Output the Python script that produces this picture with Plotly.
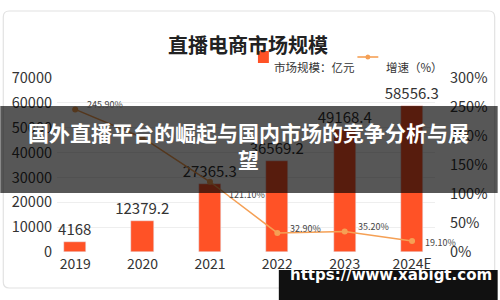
import plotly.graph_objects as go

years = ["2019", "2020", "2021", "2022", "2023", "2024E"]
market_size = [4168, 12379.2, 27365.3, 36569.2, 49168.4, 58556.3]
growth = [245.9, 197.0, 121.1, 32.9, 35.2, 19.1]
growth_labels = ["245.90%", "", "121.10%", "32.90%", "35.20%", "19.10%"]
left_ticks = [0, 10000, 20000, 30000, 40000, 50000, 60000, 70000]
right_ticks = [0, 50, 100, 150, 200, 250, 300]

title_text = "直播电商市场规模"
legend_bar = "市场规模：亿元"
legend_line = "增速（%）"
banner_text = "国外直播平台的崛起与国内市场的竞争分析与展<br>望"
watermark = "https://www.xabigt.com"

W, H = 500, 300
L, R, T, B = 57, 63, 78, 48
PW, PH = W - L - R, H - T - B

def px(x):
    return (x - L) / PW

def py(y):
    return (H - B - y) / PH

BAR = "#FF5226"
LINE = "#F5A055"
FONT = "Noto Sans CJK SC"

fig = go.Figure()
fig.add_trace(go.Bar(
    x=years, y=market_size, marker_color=BAR, width=0.33,
    text=[f"{v:g}" for v in market_size], textposition="outside",
    constraintext="none",
    textfont=dict(size=15, color="#333", family=FONT), cliponaxis=False,
    showlegend=False, yaxis="y"))
fig.add_trace(go.Scatter(
    x=years, y=growth, mode="lines+markers", yaxis="y2",
    line=dict(color=LINE, width=1.5), marker=dict(size=6, color=LINE),
    showlegend=False, cliponaxis=False))

# line data labels (x given as category index)
offsets = [(10, 5), (0, 0), (17, -13), (11, 4), (11, 5), (11, -2)]
for i, (g, lab, (dx, dy)) in enumerate(zip(growth, growth_labels, offsets)):
    if not lab:
        continue
    fig.add_annotation(x=i, y=g, xref="x", yref="y2", text=lab, showarrow=False,
                       xanchor="left", xshift=dx, yshift=dy,
                       font=dict(size=9, color="#444", family=FONT))

shapes = []
# card with rounded corners
x0, x1, y0, y1 = px(3), px(497), py(288), py(11)
rx, ry = 6 / PW, 6 / PH
path = (f"M {x0+rx},{y1} L {x1-rx},{y1} Q {x1},{y1} {x1},{y1-ry} "
        f"L {x1},{y0+ry} Q {x1},{y0} {x1-rx},{y0} L {x0+rx},{y0} "
        f"Q {x0},{y0} {x0},{y0+ry} L {x0},{y1-ry} Q {x0},{y1} {x0+rx},{y1} Z")
shapes.append(dict(type="path", xref="paper", yref="paper", path=path,
                   line=dict(color="#e2e2e2", width=1.2), fillcolor="white",
                   layer="below"))
# legend symbols
shapes.append(dict(type="rect", xref="paper", yref="paper",
                   x0=px(259), x1=px(270), y0=py(63), y1=py(51),
                   fillcolor=BAR, line=dict(width=0)))
shapes.append(dict(type="rect", xref="paper", yref="paper",
                   x0=px(359), x1=px(380), y0=py(57.8), y1=py(56.2),
                   fillcolor=LINE, line=dict(width=0)))
shapes.append(dict(type="circle", xref="paper", yref="paper",
                   x0=px(367), x1=px(372), y0=py(59.5), y1=py(54.5),
                   fillcolor=LINE, line=dict(width=0)))
# banner
shapes.append(dict(type="rect", xref="paper", yref="paper",
                   x0=px(0), x1=px(500), y0=py(193), y1=py(106),
                   fillcolor="rgba(0,0,0,0.66)", line=dict(width=0), layer="above"))
# watermark box
shapes.append(dict(type="rect", xref="paper", yref="paper",
                   x0=px(280), x1=px(500), y0=py(300), y1=py(270),
                   fillcolor="#111", line=dict(width=0), layer="above"))

annotations = [
    dict(x=px(249), y=py(28), xref="paper", yref="paper", text=f"<b>{title_text}</b>",
         showarrow=False, font=dict(size=20, color="#222", family=FONT)),
    dict(x=px(273), y=py(57), xref="paper", yref="paper", text=legend_bar,
         showarrow=False, xanchor="left", font=dict(size=11.5, color="#333", family=FONT)),
    dict(x=px(386), y=py(57), xref="paper", yref="paper", text=legend_line,
         showarrow=False, xanchor="left", font=dict(size=11.5, color="#333", family=FONT)),
    dict(x=px(250), y=py(145), xref="paper", yref="paper", text=f"<b>{banner_text}</b>",
         showarrow=False, font=dict(size=21, color="white", family=FONT)),
    dict(x=px(289), y=py(286), xref="paper", yref="paper", text=f"<b>{watermark}</b>",
         showarrow=False, xanchor="left", font=dict(size=15, color="white", family="DejaVu Sans")),
]
for a in annotations:
    fig.add_annotation(**a)

fig.update_layout(
    width=W, height=H, margin=dict(l=L, r=R, t=T, b=B),
    paper_bgcolor="white", plot_bgcolor="rgba(0,0,0,0)",
    shapes=shapes, bargap=0,
    xaxis=dict(type="category", range=[-0.27, 5.34], showgrid=False, zeroline=False,
               showline=False, ticks="", tickfont=dict(size=14, color="#333", family=FONT),
               ticklabelstandoff=2),
    yaxis=dict(range=[0, 70000], tickvals=left_ticks, ticktext=[str(v) for v in left_ticks],
               showgrid=True, gridcolor="#eeeeee", gridwidth=1, zeroline=False,
               tickfont=dict(size=14.5, color="#333", family=FONT), ticklabelstandoff=4),
    yaxis2=dict(range=[0, 300], tickvals=right_ticks, ticktext=[f"{v}%" for v in right_ticks],
                overlaying="y", side="right", showgrid=False, zeroline=False,
                tickfont=dict(size=14.5, color="#333", family=FONT), ticklabelstandoff=14),
)

fig.write_html("out.html")
